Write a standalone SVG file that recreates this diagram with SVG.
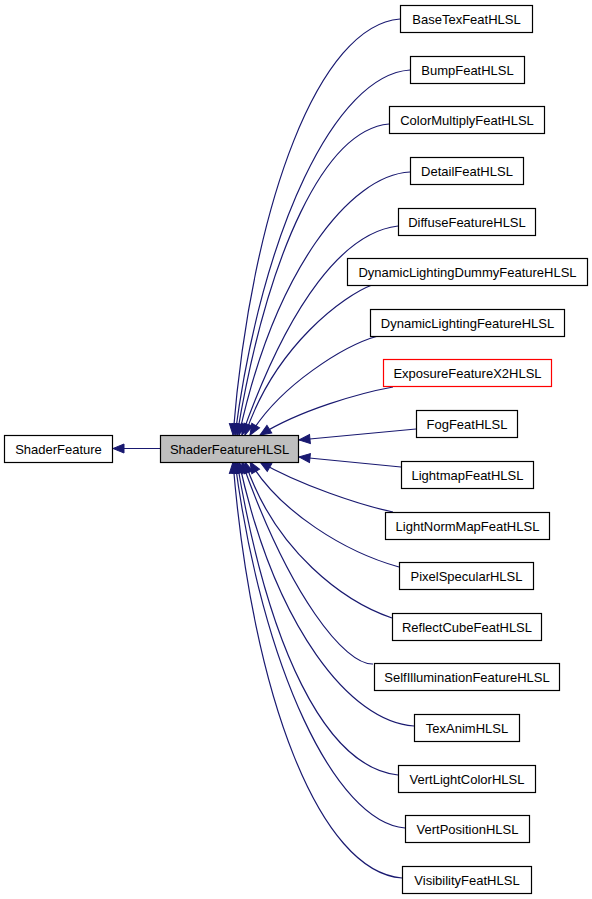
<svg xmlns="http://www.w3.org/2000/svg" width="592" height="899" viewBox="0 0 592 899">
<style>
.n rect{fill:#ffffff;stroke:#000;stroke-width:1.2}
.n text{font-family:"Liberation Sans",Arial,sans-serif;font-size:13px;fill:#000;text-anchor:middle}
#n_ShaderFeatureHLSL rect{fill:#bfbfbf}
#n_ExposureFeatureX2HLSL rect{stroke:#ff0000}
.e path{fill:none;stroke:#191970;stroke-width:1.2;marker-end:url(#ah)}
</style>
<defs>
<marker id="ah" markerUnits="userSpaceOnUse" markerWidth="12" markerHeight="10" refX="11" refY="5" orient="auto" viewBox="0 0 12 10" overflow="visible">
<path d="M0,0.5 L11,5 L0,9.5 Z" fill="#191970" stroke="#191970" stroke-width="1"/>
</marker>
</defs>
<g id="edges" class="e">
<path d="M160,448.5 L113,448.5"/>
<path d="M400,19 C320,25 252,200 233,435"/>
<path d="M410,70 C335,75 262,230 235,435"/>
<path d="M389,124 C325,130 268,250 237,435"/>
<path d="M410,172 C350,175 275,270 239,435"/>
<path d="M398,226 C345,232 290,300 242,435"/>
<path d="M372,285 C345,295 275,345 245,435"/>
<path d="M378,336 C345,345 280,385 250,435"/>
<path d="M393,387 C360,393 300,410 260,435"/>
<path d="M416,429 L299,440"/>
<path d="M401,467 L299,457"/>
<path d="M393,512 C360,505 300,485 260,462"/>
<path d="M399,567 C345,552 280,512 250,462"/>
<path d="M392,618 C345,602 275,552 245,462"/>
<path d="M373,664 C345,665 290,597 242,462"/>
<path d="M414,726 C350,722 275,627 239,462"/>
<path d="M398,775 C325,767 268,647 237,462"/>
<path d="M405,828 C335,822 262,667 235,462"/>
<path d="M402,878 C320,872 252,697 233,462"/>
</g>
<g id="n_ShaderFeature" class="n"><rect x="4.5" y="435.5" width="108" height="27"/><text x="58.5" y="453.5">ShaderFeature</text></g>
<g id="n_ShaderFeatureHLSL" class="n"><rect x="160.5" y="435.5" width="138" height="27"/><text x="229.5" y="453.5">ShaderFeatureHLSL</text></g>
<g id="n_BaseTexFeatHLSL" class="n"><rect x="400.5" y="5.5" width="132" height="27"/><text x="466.5" y="23.5">BaseTexFeatHLSL</text></g>
<g id="n_BumpFeatHLSL" class="n"><rect x="410.5" y="56.5" width="114" height="27"/><text x="467.5" y="74.5">BumpFeatHLSL</text></g>
<g id="n_ColorMultiplyFeatHLSL" class="n"><rect x="389.5" y="106.5" width="155" height="27"/><text x="467" y="124.5">ColorMultiplyFeatHLSL</text></g>
<g id="n_DetailFeatHLSL" class="n"><rect x="410.5" y="157.5" width="113" height="27"/><text x="467" y="175.5">DetailFeatHLSL</text></g>
<g id="n_DiffuseFeatureHLSL" class="n"><rect x="398.5" y="208.5" width="137" height="27"/><text x="467" y="226.5">DiffuseFeatureHLSL</text></g>
<g id="n_DynamicLightingDummyFeatureHLSL" class="n"><rect x="347.5" y="258.5" width="240" height="27"/><text x="467.5" y="276.5">DynamicLightingDummyFeatureHLSL</text></g>
<g id="n_DynamicLightingFeatureHLSL" class="n"><rect x="370.5" y="309.5" width="194" height="27"/><text x="467.5" y="327.5">DynamicLightingFeatureHLSL</text></g>
<g id="n_ExposureFeatureX2HLSL" class="n"><rect x="383.5" y="359.5" width="168" height="27"/><text x="467.5" y="377.5">ExposureFeatureX2HLSL</text></g>
<g id="n_FogFeatHLSL" class="n"><rect x="416.5" y="410.5" width="101" height="27"/><text x="467" y="428.5">FogFeatHLSL</text></g>
<g id="n_LightmapFeatHLSL" class="n"><rect x="401.5" y="461.5" width="132" height="27"/><text x="467.5" y="479.5">LightmapFeatHLSL</text></g>
<g id="n_LightNormMapFeatHLSL" class="n"><rect x="385.5" y="512.5" width="164" height="27"/><text x="467.5" y="530.5">LightNormMapFeatHLSL</text></g>
<g id="n_PixelSpecularHLSL" class="n"><rect x="399.5" y="562.5" width="134" height="27"/><text x="466.5" y="580.5">PixelSpecularHLSL</text></g>
<g id="n_ReflectCubeFeatHLSL" class="n"><rect x="392.5" y="613.5" width="149" height="27"/><text x="467" y="631.5">ReflectCubeFeatHLSL</text></g>
<g id="n_SelfIlluminationFeatureHLSL" class="n"><rect x="374.5" y="663.5" width="185" height="27"/><text x="467" y="681.5">SelfIlluminationFeatureHLSL</text></g>
<g id="n_TexAnimHLSL" class="n"><rect x="414.5" y="714.5" width="105" height="27"/><text x="467" y="732.5">TexAnimHLSL</text></g>
<g id="n_VertLightColorHLSL" class="n"><rect x="398.5" y="765.5" width="137" height="27"/><text x="467" y="783.5">VertLightColorHLSL</text></g>
<g id="n_VertPositionHLSL" class="n"><rect x="405.5" y="815.5" width="124" height="27"/><text x="467.5" y="833.5">VertPositionHLSL</text></g>
<g id="n_VisibilityFeatHLSL" class="n"><rect x="402.5" y="866.5" width="129" height="27"/><text x="467" y="884.5">VisibilityFeatHLSL</text></g>
</svg>
